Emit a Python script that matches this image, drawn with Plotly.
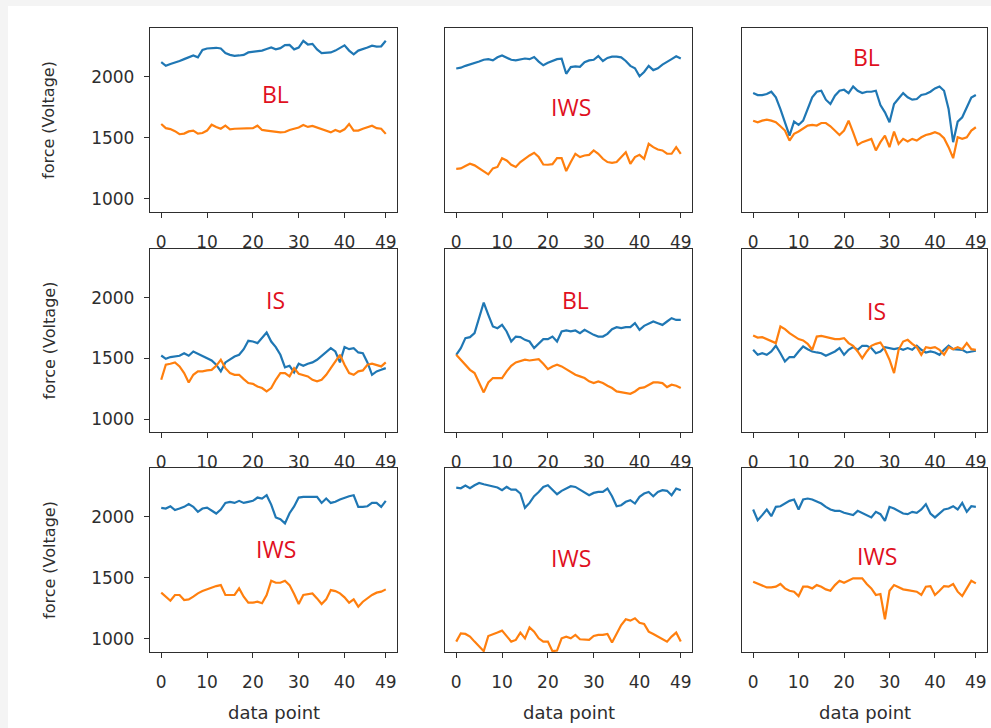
import plotly.graph_objects as go

# ---- data: 50 samples per trial, two sensors (blue / orange) ----
idx = list(range(50))

r1c1_blue = [2120, 2090, 2105, 2115, 2130, 2145, 2160, 2175, 2160, 2220, 2232, 2235, 2238, 2232, 2195, 2180, 2172, 2175, 2180, 2200,
             2205, 2210, 2215, 2228, 2240, 2225, 2235, 2260, 2262, 2225, 2240, 2295, 2265, 2270, 2225, 2195, 2195, 2200, 2215, 2240,
             2258, 2215, 2185, 2215, 2225, 2240, 2255, 2248, 2250, 2295]
r1c1_orange = [1614, 1580, 1572, 1555, 1530, 1535, 1553, 1560, 1535, 1540, 1560, 1608, 1590, 1575, 1600, 1570, 1575, 1575, 1575, 1578,
               1580, 1600, 1565, 1560, 1555, 1545, 1545, 1548, 1565, 1575, 1585, 1605, 1590, 1598, 1585, 1570, 1555, 1545, 1565, 1550,
               1570, 1614, 1560, 1560, 1575, 1585, 1600, 1580, 1575, 1533]

r1c2_blue = [2068, 2075, 2090, 2100, 2110, 2125, 2140, 2145, 2135, 2160, 2175, 2160, 2140, 2135, 2145, 2150, 2145, 2162, 2125, 2095,
             2115, 2130, 2145, 2148, 2025, 2080, 2085, 2082, 2120, 2135, 2140, 2170, 2130, 2155, 2165, 2165, 2160, 2130, 2090, 2070,
             2005, 2040, 2090, 2055, 2070, 2100, 2120, 2145, 2168, 2150]
r1c2_orange = [1247, 1250, 1270, 1288, 1275, 1250, 1225, 1201, 1250, 1262, 1334, 1315, 1280, 1262, 1302, 1330, 1356, 1378, 1343, 1282,
               1280, 1285, 1334, 1334, 1228, 1302, 1370, 1343, 1356, 1361, 1397, 1370, 1329, 1302, 1296, 1302, 1343, 1383, 1288, 1343,
               1361, 1329, 1451, 1424, 1405, 1397, 1370, 1370, 1424, 1370]

r1c3_blue = [1867, 1851, 1851, 1859, 1878, 1832, 1736, 1628, 1519, 1633, 1606, 1641, 1736, 1832, 1878, 1886, 1813, 1777, 1845, 1886,
             1894, 1867, 1921, 1886, 1867, 1878, 1878, 1886, 1769, 1709, 1628, 1777, 1823, 1867, 1832, 1813, 1818, 1851, 1859, 1878,
             1905, 1921, 1886, 1736, 1465, 1633, 1669, 1750, 1830, 1851]
r1c3_orange = [1641, 1628, 1641, 1650, 1641, 1628, 1595, 1560, 1478, 1533, 1552, 1579, 1601, 1606, 1601, 1622, 1622, 1595, 1560, 1524,
               1560, 1641, 1546, 1443, 1465, 1478, 1492, 1397, 1465, 1519, 1424, 1552, 1451, 1492, 1470, 1492, 1478, 1505, 1524, 1533,
               1546, 1533, 1497, 1424, 1334, 1505, 1492, 1505, 1560, 1587]

r2c1_blue = [1523, 1496, 1510, 1515, 1521, 1542, 1521, 1556, 1537, 1515, 1501, 1482, 1447, 1392, 1466, 1493, 1515, 1529, 1575, 1644,
             1638, 1625, 1666, 1712, 1638, 1592, 1529, 1425, 1438, 1384, 1455, 1438, 1455, 1466, 1488, 1521, 1556, 1584, 1556, 1466,
             1592, 1575, 1584, 1548, 1542, 1466, 1364, 1392, 1405, 1419]
r2c1_orange = [1323, 1447, 1455, 1466, 1433, 1378, 1301, 1364, 1392, 1392, 1400, 1405, 1438, 1488, 1419, 1378, 1364, 1364, 1329, 1296,
               1290, 1268, 1255, 1227, 1255, 1323, 1378, 1378, 1351, 1419, 1373, 1364, 1351, 1323, 1310, 1323, 1364, 1419, 1474, 1529,
               1447, 1378, 1364, 1392, 1400, 1447, 1455, 1447, 1433, 1466]

r2c2_blue = [1529, 1584, 1666, 1674, 1707, 1844, 1959, 1858, 1762, 1748, 1775, 1721, 1638, 1679, 1674, 1652, 1638, 1584, 1625, 1658,
             1658, 1679, 1638, 1721, 1729, 1721, 1729, 1707, 1734, 1712, 1693, 1679, 1679, 1701, 1740, 1756, 1748, 1756, 1756, 1789,
             1734, 1767, 1784, 1803, 1789, 1775, 1803, 1830, 1816, 1816]
r2c2_orange = [1529, 1488, 1438, 1405, 1378, 1296, 1219, 1301, 1337, 1337, 1337, 1392, 1438, 1466, 1474, 1488, 1482, 1488, 1493, 1455,
               1411, 1433, 1447, 1433, 1411, 1392, 1364, 1351, 1337, 1310, 1296, 1310, 1296, 1274, 1255, 1227, 1219, 1214, 1208, 1227,
               1255, 1260, 1282, 1301, 1301, 1296, 1263, 1282, 1274, 1255]

r2c3_blue = [1570, 1529, 1542, 1529, 1556, 1603, 1542, 1474, 1510, 1510, 1556, 1597, 1575, 1556, 1548, 1542, 1521, 1537, 1556, 1584,
             1529, 1570, 1592, 1570, 1603, 1603, 1584, 1542, 1556, 1592, 1584, 1575, 1584, 1570, 1584, 1570, 1603, 1570, 1548, 1556,
             1548, 1529, 1570, 1603, 1575, 1575, 1570, 1548, 1556, 1562]
r2c3_orange = [1688, 1671, 1674, 1658, 1638, 1625, 1762, 1740, 1707, 1679, 1658, 1647, 1619, 1570, 1679, 1685, 1674, 1666, 1658, 1658,
               1666, 1625, 1603, 1556, 1501, 1556, 1603, 1619, 1630, 1570, 1488, 1378, 1570, 1638, 1652, 1619, 1592, 1529, 1592, 1584,
               1592, 1570, 1529, 1592, 1575, 1592, 1575, 1625, 1575, 1570]

r3c1_blue = [2074, 2068, 2087, 2055, 2068, 2082, 2104, 2082, 2041, 2068, 2076, 2049, 2027, 2060, 2114, 2123, 2114, 2131, 2114, 2123,
             2131, 2158, 2150, 2177, 2100, 1995, 1980, 1946, 2030, 2085, 2158, 2164, 2164, 2158, 2164, 2114, 2150, 2114, 2123, 2142,
             2158, 2169, 2177, 2082, 2082, 2087, 2114, 2114, 2082, 2131]
r3c1_orange = [1379, 1346, 1313, 1360, 1360, 1319, 1324, 1346, 1373, 1392, 1406, 1414, 1433, 1441, 1360, 1360, 1360, 1414, 1346, 1297,
               1297, 1305, 1292, 1360, 1477, 1460, 1460, 1477, 1441, 1368, 1286, 1360, 1368, 1373, 1332, 1286, 1324, 1400, 1392, 1373,
               1341, 1297, 1324, 1264, 1305, 1332, 1360, 1379, 1387, 1406]

r3c2_blue = [2240, 2234, 2256, 2234, 2259, 2278, 2267, 2259, 2251, 2240, 2218, 2245, 2223, 2223, 2191, 2074, 2114, 2169, 2204, 2245,
             2259, 2223, 2185, 2213, 2232, 2251, 2245, 2223, 2204, 2177, 2196, 2204, 2204, 2232, 2169, 2087, 2095, 2123, 2136, 2109,
             2164, 2191, 2204, 2169, 2204, 2218, 2213, 2177, 2232, 2218]
r3c2_orange = [978, 1046, 1041, 1019, 978, 943, 900, 1024, 1041, 1052, 1068, 1019, 978, 992, 1052, 1005, 1095, 1060, 1005, 978,
               978, 900, 905, 1005, 1019, 1005, 1033, 997, 997, 992, 1024, 1033, 1033, 1041, 970, 1046, 1114, 1161, 1150, 1169,
               1133, 1123, 1060, 1041, 1019, 997, 978, 1019, 1052, 978]

r3c3_blue = [2060, 1973, 2014, 2060, 2005, 2082, 2087, 2109, 2131, 2142, 2060, 2142, 2150, 2142, 2123, 2109, 2082, 2060, 2049, 2049,
             2033, 2022, 2014, 2049, 2033, 2014, 1995, 2041, 2022, 1967, 2082, 2068, 2049, 2027, 2022, 2041, 2033, 2060, 2104, 2027,
             1995, 2027, 2060, 2068, 2087, 2060, 2114, 2041, 2087, 2082]
r3c3_orange = [1469, 1455, 1441, 1422, 1422, 1428, 1450, 1414, 1395, 1387, 1351, 1428, 1428, 1414, 1441, 1428, 1406, 1395, 1441, 1477,
               1460, 1477, 1496, 1496, 1496, 1450, 1414, 1360, 1368, 1161, 1395, 1441, 1422, 1406, 1400, 1395, 1387, 1360, 1428, 1433,
               1360, 1395, 1433, 1428, 1450, 1387, 1351, 1414, 1477, 1455]

panels = [
    [(r1c1_blue, r1c1_orange, "BL"), (r1c2_blue, r1c2_orange, "IWS"), (r1c3_blue, r1c3_orange, "BL")],
    [(r2c1_blue, r2c1_orange, "IS"), (r2c2_blue, r2c2_orange, "BL"), (r2c3_blue, r2c3_orange, "IS")],
    [(r3c1_blue, r3c1_orange, "IWS"), (r3c2_blue, r3c2_orange, "IWS"), (r3c3_blue, r3c3_orange, "IWS")],
]
# label anchor inside each panel (fraction of the panel width / height from its top-left)
label_pos = [
    [(0.51, 0.36), (0.51, 0.43), (0.51, 0.16)],
    [(0.51, 0.28), (0.53, 0.28), (0.55, 0.34)],
    [(0.51, 0.44), (0.51, 0.49), (0.55, 0.48)],
]

x_ticks = [0, 10, 20, 30, 40, 49]
y_ticks = [1000, 1500, 2000]
x_range = [-2.45, 51.45]
y_range = [893, 2400]

BLUE = "#1f77b4"
ORANGE = "#ff7f0e"
INK = "#2e2e2e"
W, H = 991, 728

# panel boxes in pixels
cols_px = [(150, 397), (445, 692), (742, 987)]
rows_px = [(28, 212), (249, 432), (468, 652)]

fig = go.Figure()
layout = {}
annotations = []

tick_font = dict(family="DejaVu Sans", size=17, color=INK)

for r in range(3):
    for c in range(3):
        k = r * 3 + c + 1
        xa = "x" if k == 1 else f"x{k}"
        ya = "y" if k == 1 else f"y{k}"
        blue, orange, tag = panels[r][c]
        fig.add_trace(go.Scatter(x=idx, y=blue, mode="lines", xaxis=xa, yaxis=ya,
                                 line=dict(color=BLUE, width=2.2), showlegend=False))
        fig.add_trace(go.Scatter(x=idx, y=orange, mode="lines", xaxis=xa, yaxis=ya,
                                 line=dict(color=ORANGE, width=2.2), showlegend=False))
        x0, x1 = cols_px[c]
        y0, y1 = rows_px[r]
        xkey = "xaxis" if k == 1 else f"xaxis{k}"
        ykey = "yaxis" if k == 1 else f"yaxis{k}"
        layout[xkey] = dict(
            domain=[x0 / W, x1 / W], anchor=ya, range=x_range,
            tickmode="array", tickvals=x_ticks, ticktext=[str(t) for t in x_ticks],
            ticks="outside", ticklen=5, tickwidth=1.2, tickcolor=INK,
            showline=True, mirror=True, linecolor=INK, linewidth=1.4,
            showgrid=False, zeroline=False, tickfont=tick_font, ticklabelstandoff=9,
        )
        layout[ykey] = dict(
            domain=[1 - y1 / H, 1 - y0 / H], anchor=xa, range=y_range,
            tickmode="array", tickvals=y_ticks,
            ticks="outside" if c == 0 else "", ticklen=5, tickwidth=1.2, tickcolor=INK,
            showticklabels=(c == 0),
            showline=True, mirror=True, linecolor=INK, linewidth=1.4,
            showgrid=False, zeroline=False, tickfont=tick_font, ticklabelstandoff=6,
        )
        fx, fy = label_pos[r][c]
        annotations.append(dict(
            text=tag, xref="paper", yref="paper",
            x=(x0 + fx * (x1 - x0)) / W, y=1 - (y0 + fy * (y1 - y0)) / H,
            xanchor="center", yanchor="middle", showarrow=False,
            font=dict(family="Open Sans", size=23, color="#e0101e"),
        ))
    # y-axis title for the row
    y0, y1 = rows_px[r]
    annotations.append(dict(
        text="force (Voltage)", xref="paper", yref="paper",
        x=49 / W, y=1 - (y0 + y1) / 2 / H, textangle=-90,
        xanchor="center", yanchor="middle", showarrow=False,
        font=dict(family="DejaVu Sans", size=16, color=INK),
    ))

for c in range(3):
    x0, x1 = cols_px[c]
    annotations.append(dict(
        text="data point", xref="paper", yref="paper",
        x=(x0 + x1) / 2 / W, y=1 - 712 / H,
        xanchor="center", yanchor="middle", showarrow=False,
        font=dict(family="DejaVu Sans", size=18, color=INK),
    ))

fig.update_layout(
    width=W, height=H,
    margin=dict(l=0, r=0, t=0, b=0),
    paper_bgcolor="#f4f4f4",
    plot_bgcolor="white",
    annotations=annotations,
    shapes=[dict(type="rect", xref="paper", yref="paper", layer="below",
                 x0=8 / W, x1=1, y0=0, y1=1 - 6 / H,
                 fillcolor="white", line=dict(width=0))],
    **layout,
)

fig.write_html("out.html")
